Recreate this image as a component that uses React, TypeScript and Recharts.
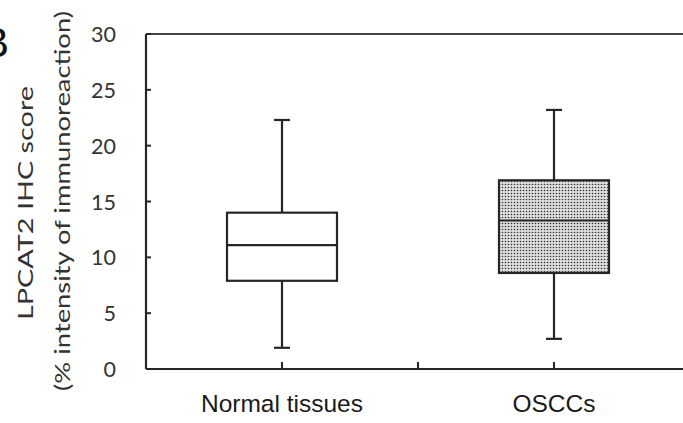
import React from 'react';
import { ComposedChart, Bar, XAxis, YAxis, ReferenceLine } from 'recharts';

const categories = ['Normal tissues', 'OSCCs'];
const mins = [1.9, 2.7];
const q1s = [7.9, 8.6];
const medians = [11.1, 13.3];
const q3s = [14.0, 16.9];
const maxs = [22.3, 23.2];
const yTicks = [0, 5, 10, 15, 20, 25, 30];
const yTitle1 = 'LPCAT2 IHC score';
const yTitle2 = '(% intensity of immunoreaction)';
const panelLetter = 'B';

const data = categories.map((name, i) => ({
  name,
  range: [mins[i], maxs[i]],
  min: mins[i],
  q1: q1s[i],
  median: medians[i],
  q3: q3s[i],
  max: maxs[i],
}));

const INK = '#262626';
const boxFills = ['#ffffff', 'url(#dotPattern)'];

const BoxShape = (props: any) => {
  const { x, y, width, height, payload, index } = props;
  const { min, q1, median, q3, max } = payload;
  const py = (v: number) => y + (height * (max - v)) / (max - min);
  const cx = x + width / 2;
  const cap = 8;
  const sw = 2.2;
  return (
    <g>
      <defs>
        <pattern id="dotPattern" width="3" height="3" patternUnits="userSpaceOnUse">
          <rect width="3" height="3" fill="#dedede" />
          <circle cx="1.5" cy="1.5" r="0.8" fill="#333" />
        </pattern>
      </defs>
      <line x1={cx} x2={cx} y1={py(max)} y2={py(q3)} stroke={INK} strokeWidth={sw} />
      <line x1={cx} x2={cx} y1={py(q1)} y2={py(min)} stroke={INK} strokeWidth={sw} />
      <line x1={cx - cap} x2={cx + cap} y1={py(max)} y2={py(max)} stroke={INK} strokeWidth={sw} />
      <line x1={cx - cap} x2={cx + cap} y1={py(min)} y2={py(min)} stroke={INK} strokeWidth={sw} />
      <rect
        x={x}
        y={py(q3)}
        width={width}
        height={py(q1) - py(q3)}
        fill={boxFills[index % boxFills.length]}
        stroke={INK}
        strokeWidth={sw}
      />
      <line x1={x} x2={x + width} y1={py(median)} y2={py(median)} stroke={INK} strokeWidth={sw} />
    </g>
  );
};

const XTick = (props: any) => {
  const { x, y, payload, index, visibleTicksCount } = props;
  const half = payload && payload.offset ? payload.offset : 136;
  const isLast = index >= (visibleTicksCount ?? categories.length) - 1;
  return (
    <g>
      <line x1={x} x2={x} y1={y} y2={y - 7} stroke={INK} strokeWidth={2} />
      {!isLast ? (
        <line x1={x + half} x2={x + half} y1={y} y2={y - 7} stroke={INK} strokeWidth={2} />
      ) : null}
      <text
        x={x}
        y={y + 43}
        textAnchor="middle"
        fontFamily="'Liberation Sans', Arial, sans-serif"
        fontSize={24.5}
        fill="#1a1a1a"
      >
        {payload.value}
      </text>
    </g>
  );
};

const YTick = (props: any) => {
  const { x, y, payload } = props;
  return (
    <g>
      <line x1={x} x2={x + 5} y1={y} y2={y} stroke={INK} strokeWidth={2} />
      <text
        x={x - 30}
        y={y + 8}
        textAnchor="end"
        fontFamily="Lato, 'Open Sans', sans-serif"
        fontSize={21.5}
        fill="#333"
      >
        {payload.value}
      </text>
    </g>
  );
};

const YTitle = () => (
  <g>
    <text
      x={-19}
      y={57}
      fontFamily="'Liberation Sans', Arial, sans-serif"
      fontSize={42}
      fill="#111"
    >
      {panelLetter}
    </text>
    <text
      transform="translate(33,203) rotate(-90)"
      textAnchor="middle"
      fontFamily="Lato, 'Open Sans', sans-serif"
      fontSize={22}
      fill="#333"
      textLength={234}
      lengthAdjust="spacingAndGlyphs"
    >
      {yTitle1}
    </text>
    <text
      transform="translate(70,201) rotate(-90)"
      textAnchor="middle"
      fontFamily="Lato, 'Open Sans', sans-serif"
      fontSize={22}
      fill="#333"
      textLength={380}
      lengthAdjust="spacingAndGlyphs"
    >
      {yTitle2}
    </text>
  </g>
);

export default function App() {
  return (
    <div
      style={{
        position: 'absolute',
        left: 0,
        top: 0,
        width: 683,
        height: 423,
        overflow: 'hidden',
        background: '#fff',
      }}
    >
      <ComposedChart
        width={700}
        height={423}
        data={data}
        margin={{ top: 34, right: 10, bottom: 0, left: 0 }}
      >
        <XAxis
          dataKey="name"
          height={54}
          axisLine={{ stroke: INK, strokeWidth: 2.2 }}
          tickLine={false}
          tickSize={0}
          tickMargin={0}
          tick={<XTick />}
          interval={0}
        />
        <YAxis
          type="number"
          domain={[0, 30]}
          ticks={yTicks}
          width={146}
          axisLine={{ stroke: INK, strokeWidth: 2.2 }}
          tickLine={false}
          tickSize={0}
          tickMargin={0}
          tick={<YTick />}
          interval={0}
          label={<YTitle />}
        />
        <ReferenceLine y={30} stroke="#444" strokeWidth={2.2} />
        <Bar
          dataKey="range"
          barSize={110}
          isAnimationActive={false}
          shape={<BoxShape />}
        />
      </ComposedChart>
    </div>
  );
}
